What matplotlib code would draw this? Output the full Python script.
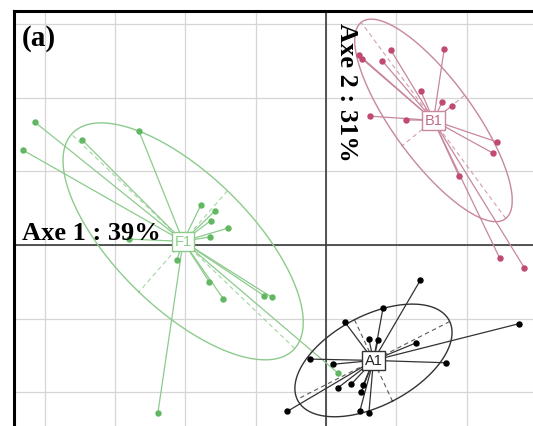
import numpy as np
import matplotlib.pyplot as plt

# Row scores on the first factorial plane, one array per class
f1_x = [-4.14, -4.31, -3.47, -2.66, -2.80, -1.78, -1.58, -1.64, -1.39,
        -1.65, -2.12, -1.66, -1.46, -0.88, -0.77, -2.39, 0.17]
f1_y = [1.67, 1.29, 1.43, 1.55, 0.08, 0.54, 0.46, 0.33, 0.23,
        0.11, -0.20, -0.50, -0.73, -0.69, -0.71, -2.28, -1.74]

b1_x = [0.47, 0.51, 0.92, 0.80, 1.68, 1.35, 1.65, 1.79, 0.63,
        1.14, 2.43, 2.37, 1.89, 2.47, 2.82]
b1_y = [2.58, 2.53, 2.65, 2.50, 2.66, 2.09, 1.94, 1.89, 1.75,
        1.70, 1.40, 1.25, 0.94, -0.18, -0.31]

a1_x = [1.34, 0.81, 0.27, 0.61, 0.74, 1.28, 2.74, 1.71, -0.23,
        0.10, 0.17, 0.36, 0.53, 0.50, -0.55, 0.48, 0.61]
a1_y = [-0.48, -0.86, -1.05, -1.28, -1.29, -1.33, -1.07, -1.60, -1.55,
        -1.62, -1.94, -1.89, -1.90, -2.00, -2.26, -2.26, -2.28]

axis1_label = "Axe 1 : 39%"
axis2_label = "Axe 2 : 31%"
panel_label = "(a)"
cellipse = 1.5


def draw_class(ax, xs, ys, label, line_col, pt_col, txt_col):
    x = np.asarray(xs)
    y = np.asarray(ys)
    cx, cy = x.mean(), y.mean()

    # star: segments from the class centroid to each row
    for xi, yi in zip(x, y):
        ax.plot([cx, xi], [cy, yi], color=line_col, lw=0.9, zorder=3)
    ax.plot(x, y, "o", ms=3.6, color=pt_col, zorder=4)

    # inertia ellipse (population covariance, scaled by cellipse)
    cov = np.cov(np.vstack([x, y]), bias=True)
    vals, vecs = np.linalg.eigh(cov)
    half = vecs * (cellipse * np.sqrt(vals))
    t = np.linspace(0, 2 * np.pi, 300)
    ell = half @ np.vstack([np.cos(t), np.sin(t)])
    ax.plot(cx + ell[0], cy + ell[1], color=line_col, lw=1.0, zorder=3)
    for i in range(2):
        a = half[:, i]
        ax.plot([cx - a[0], cx + a[0]], [cy - a[1], cy + a[1]],
                color=line_col, lw=0.8, ls=(0, (4, 3)), alpha=0.8, zorder=3)

    ax.text(cx, cy, label, ha="center", va="center", color=txt_col,
            fontsize=10.5, family="Liberation Sans", zorder=6,
            bbox=dict(boxstyle="square,pad=0.18", fc="white",
                      ec=line_col, lw=1.0))


fig = plt.figure(figsize=(5.33, 4.27), dpi=100)
ax = fig.add_axes([14 / 533, 0.0, 1 - 14 / 533, 1 - 12 / 427])
ax.set_xlim(-4.436, 2.943)
ax.set_ylim(-2.459, 3.179)

ax.set_xticks(np.arange(-4, 3))
ax.set_yticks(np.arange(-2, 4))
ax.tick_params(length=0, labelbottom=False, labelleft=False)
ax.grid(True, color="#d6d6d6", lw=0.9)
ax.set_axisbelow(True)

for side in ("right", "bottom"):
    ax.spines[side].set_visible(False)
for side in ("left", "top"):
    ax.spines[side].set_linewidth(2.2)
    ax.spines[side].set_color("black")

ax.axhline(0, color="#3a3a3a", lw=1.2, zorder=2)
ax.axvline(0, color="#3a3a3a", lw=1.2, zorder=2)

draw_class(ax, f1_x, f1_y, "F1", "#8ccb8c", "#62b862", "#8ccb8c")
draw_class(ax, b1_x, b1_y, "B1", "#c7879c", "#c04a72", "#c06a88")
draw_class(ax, a1_x, a1_y, "A1", "#333333", "#000000", "#222222")

serif = "Liberation Serif"
ax.text(-4.32, 0.08, axis1_label, ha="left", va="baseline",
        fontsize=19, fontweight="bold", family=serif, zorder=7)
ax.text(0.13, 3.03, axis2_label, ha="left", va="top", rotation=270,
        fontsize=19, fontweight="bold", family=serif, zorder=7)
ax.text(-4.32, 3.0, panel_label, ha="left", va="top",
        fontsize=21, fontweight="bold", family=serif, zorder=7)

fig.savefig("out.png", dpi=100)
plt.close(fig)
